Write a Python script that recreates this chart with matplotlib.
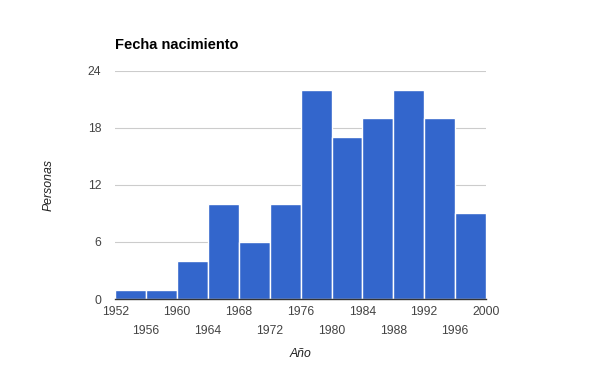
import numpy as np
import matplotlib
matplotlib.use("Agg")
import matplotlib.pyplot as plt

# histogram bins (4-year width) and counts
bin_edges = [1952, 1956, 1960, 1964, 1968, 1972, 1976, 1980, 1984, 1988, 1992, 1996, 2000]
counts = [1, 1, 4, 10, 6, 10, 22, 17, 19, 22, 19, 9]
y_ticks = [0, 6, 12, 18, 24]

plt.rcParams['font.family'] = ['Liberation Sans', 'DejaVu Sans']

fig = plt.figure(figsize=(6, 3.71), dpi=100)
ax = fig.add_axes([0.192, 0.194, 0.618, 0.615])

ax.bar(bin_edges[:-1], counts, width=4, align='edge', color='#3366CC',
       edgecolor='white', linewidth=1.0, zorder=3)

ax.set_xlim(bin_edges[0], bin_edges[-1])
ax.set_ylim(0, 24)
ax.set_yticks(y_ticks)
ax.set_yticklabels([str(t) for t in y_ticks])
ax.yaxis.grid(True, color='#cccccc', linewidth=0.8, zorder=0)

ax.set_xticks(bin_edges)
xlabels = [str(e) if i % 2 == 0 else '\n' + str(e) for i, e in enumerate(bin_edges)]
ax.set_xticklabels(xlabels, linespacing=1.75)

for s in ['top', 'right', 'left']:
    ax.spines[s].set_visible(False)
ax.spines['bottom'].set_color('#333333')
ax.spines['bottom'].set_linewidth(1.0)
ax.spines['bottom'].set_zorder(4)
ax.tick_params(axis='both', length=0, labelsize=8.8, colors='#444444')
ax.tick_params(axis='y', pad=10)
ax.tick_params(axis='x', pad=5)

ax.set_xlabel('Año', fontsize=8.8, style='italic', color='#222222', labelpad=8)
ax.set_ylabel('Personas', fontsize=8.8, style='italic', color='#222222', labelpad=24)
fig.text(115 / 600, 1 - 45 / 371, 'Fecha nacimiento', fontsize=10.5, fontweight='bold',
         color='black', va='center', ha='left')

fig.savefig('out.png', dpi=100)
